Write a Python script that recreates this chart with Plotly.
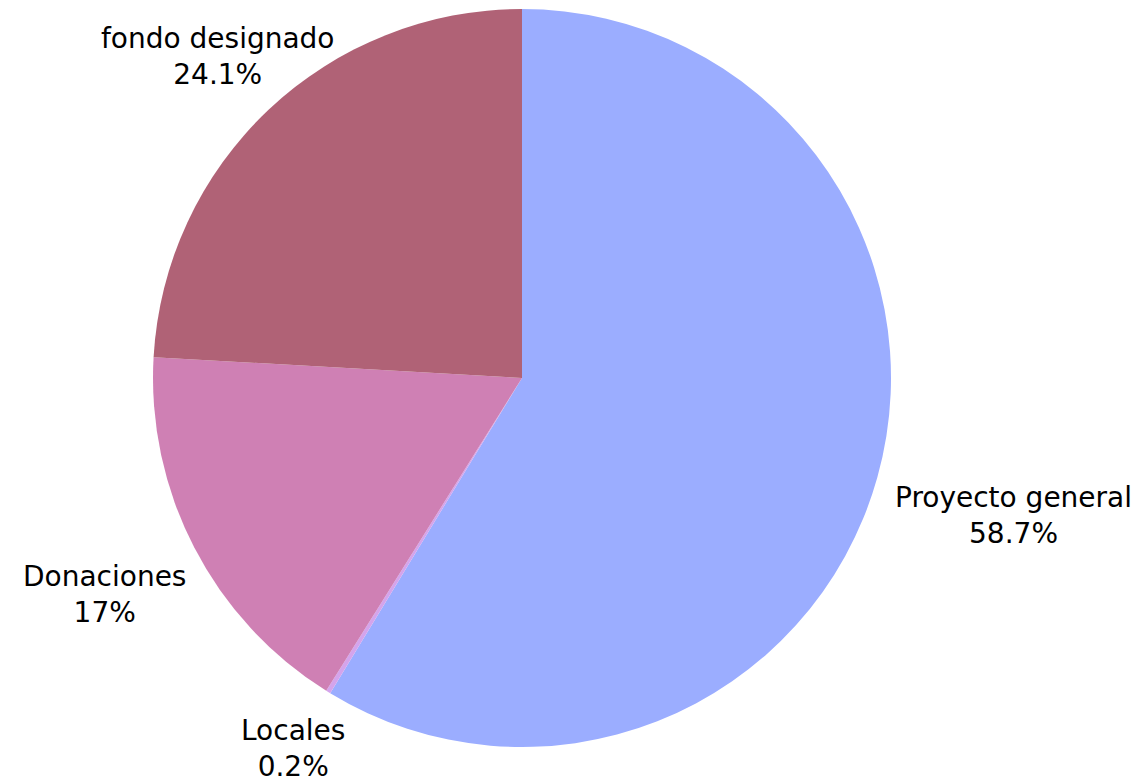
import math
import plotly.graph_objects as go

labels = ["Proyecto general", "Locales", "Donaciones", "fondo designado"]
values = [58.7, 0.2, 17.0, 24.1]
colors = ["#9BADFF", "#D4A4EC", "#CF80B4", "#B06276"]

W, H = 1145, 776
cx, cy, R = 514, 370, 369          # pie centre / radius in pixels (y from top)
FONT = dict(size=28, color="#000000", family="DejaVu Sans")
GAP = 25
LINE_H = 70                          # approx two-line label height
CHAR_W = 0.5 * FONT["size"]

fig = go.Figure(go.Pie(
    labels=labels,
    values=values,
    sort=False,
    direction="clockwise",
    rotation=0,
    automargin=False,
    domain=dict(x=[(cx - R) / W, (cx + R) / W], y=[1 - (cy + R) / H, 1 - (cy - R) / H]),
    marker=dict(colors=colors, line=dict(width=0)),
    textinfo="none",
    showlegend=False,
    hoverinfo="label+percent",
))

# outside labels placed along each slice's mid-angle
total = sum(values)
cum = 0.0
annotations = []
for lab, v in zip(labels, values):
    mid = (cum + v / 2) / total
    cum += v
    th = 2 * math.pi * mid
    ux, uy = math.sin(th), -math.cos(th)   # pixel direction (y down)
    pct = f"{v / total * 100:.3g}%"
    half_w = len(lab) * CHAR_W / 2
    half_h = LINE_H / 2
    ex = half_w / abs(ux) if abs(ux) > 1e-6 else 1e9
    ey = half_h / abs(uy) if abs(uy) > 1e-6 else 1e9
    d = R + GAP + min(ex, ey)
    px = cx + ux * d
    py = cy + uy * d
    annotations.append(dict(
        x=px / W, y=1 - py / H, xref="paper", yref="paper",
        text=f"{lab}<br>{pct}", showarrow=False,
        xanchor="center", yanchor="middle", align="center",
        font=FONT,
    ))

fig.update_layout(
    width=W,
    height=H,
    margin=dict(l=0, r=0, t=0, b=0, autoexpand=False),
    paper_bgcolor="white",
    plot_bgcolor="white",
    annotations=annotations,
)

fig.write_html("out.html")
